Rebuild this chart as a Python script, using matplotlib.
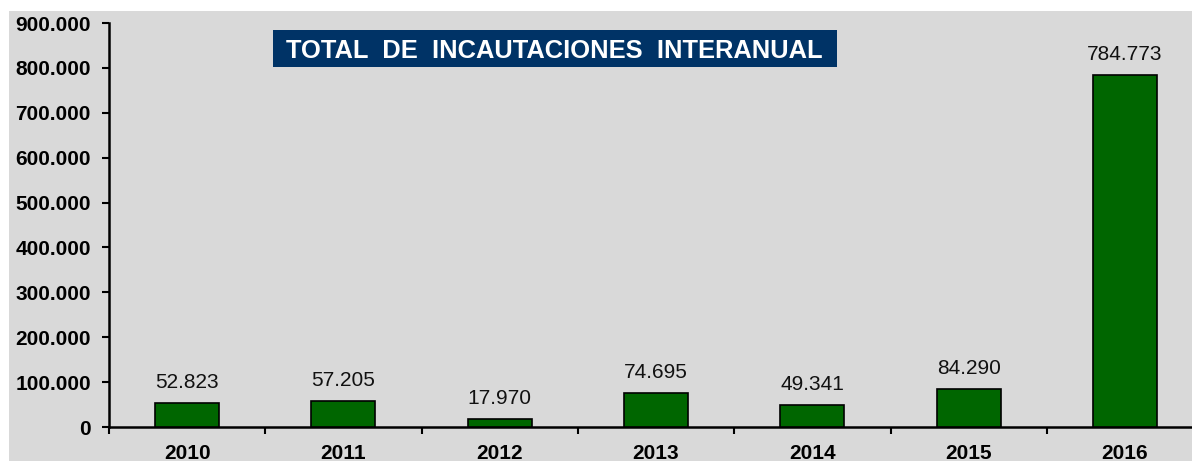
import matplotlib

matplotlib.use("Agg")
import matplotlib.pyplot as plt
from matplotlib.patches import Rectangle
from matplotlib.ticker import FuncFormatter
import numpy as np

YEARS = ["2010", "2011", "2012", "2013", "2014", "2015", "2016"]
SEIZURES = [52823, 57205, 17970, 74695, 49341, 84290, 784773]
TITLE = "TOTAL  DE  INCAUTACIONES  INTERANUAL"

BG = "#d9d9d9"
BAR = "#006600"
NAVY = "#003366"


def dotted(v, _pos=None):
    return f"{int(round(v)):,}".replace(",", ".")


plt.rcParams["font.family"] = ["Liberation Sans", "DejaVu Sans"]

W, H = 1192, 461
fig = plt.figure(figsize=(W / 100, H / 100), dpi=100, facecolor="white")

# gray chart area (Excel style), leaves a thin white margin top/left
fig.patches.append(Rectangle((9 / W, 0), 1 - 9 / W, 1 - 11 / H,
                             transform=fig.transFigure, facecolor=BG,
                             edgecolor="none", zorder=-10))

# plot area runs slightly past the right edge of the image (cropped like the source)
cat_w = 156.3
ax = fig.add_axes([109 / W, (H - 427) / H, 7 * cat_w / W, (427 - 23) / H])
ax.set_facecolor("none")
ax.set_zorder(1)

x = np.arange(len(YEARS))
ax.bar(x, SEIZURES, width=0.41, color=BAR, edgecolor="black", linewidth=1.2, zorder=3)

for xi, v in zip(x, SEIZURES):
    ax.annotate(dotted(v), (xi, v), xytext=(0, 8), textcoords="offset points",
                ha="center", va="bottom", fontsize=15, color="#111111")

ax.set_xlim(-0.5, len(YEARS) - 0.5)
ax.set_ylim(0, 900000)
ax.set_yticks(np.arange(0, 900001, 100000))
ax.yaxis.set_major_formatter(FuncFormatter(dotted))
ax.set_xticks(x)
ax.set_xticklabels(YEARS)
ax.set_xticks(np.arange(-0.5, len(YEARS), 1.0), minor=True)

ax.tick_params(axis="x", which="major", length=0, pad=12)
ax.tick_params(axis="x", which="minor", length=5, width=1.5, direction="out")
ax.tick_params(axis="y", length=5, width=1.5, direction="out", pad=8)
for lbl in ax.get_xticklabels() + ax.get_yticklabels():
    lbl.set_fontweight("bold")
    lbl.set_fontsize(15)

for s in ("top", "right"):
    ax.spines[s].set_visible(False)
for s in ("left", "bottom"):
    ax.spines[s].set_linewidth(1.8)

# title box
fig.patches.append(Rectangle((273 / W, 1 - 67 / H), (837 - 273) / W, 37 / H,
                             transform=fig.transFigure, facecolor=NAVY,
                             edgecolor="none", zorder=5))
fig.text((286 + 822) / 2 / W, 1 - 50.5 / H, TITLE, ha="center", va="center",
         color="white", fontsize=18.4, fontweight="bold", zorder=6)

fig.savefig("out.png", dpi=100, facecolor="white")
